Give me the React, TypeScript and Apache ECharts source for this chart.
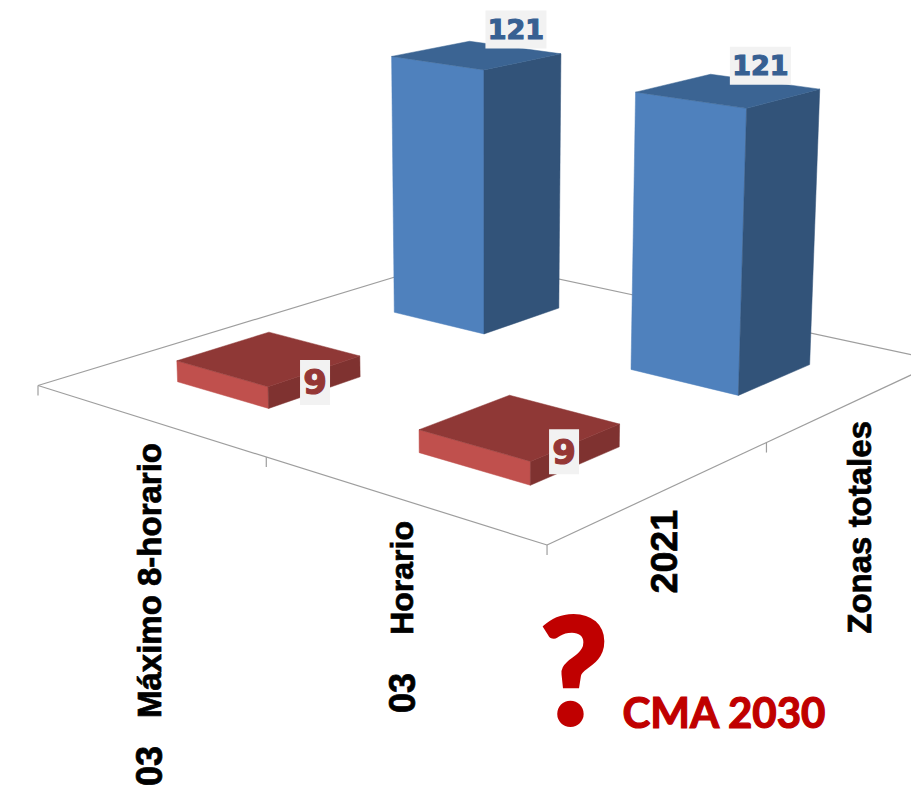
import React, { useEffect, useRef } from "react";
import * as echarts from "echarts";

// ---- data ----
const pollutantPrefix = "03";
const pollutants = ["Máximo 8-horario", "Horario"];
const periods = ["2021", "Zonas totales"];
const values2021 = [9, 9];
const valuesTotal = [121, 121];

// ---- appearance ----
const W = 911;
const H = 790;
const BAR_HALF = 0.1; // half footprint of a bar on the unit floor
const BAR_SHIFT = 1.6;
const HEIGHT_K = 0.375 / 121; // perspective pixels per value per floor-depth pixel
const DEPTH_ORIGIN = -370;
const LEAN_X = 485;
const LEAN_D = 8800;
const AXIS_COLOR = "#9e9e9e";
const LABEL_FONT = '"Liberation Sans", Arial, sans-serif';
const VALUE_FONT = '"DejaVu Sans", Verdana, sans-serif';
const NOTE_FONT = 'Lato, "Open Sans", sans-serif';
const NOTE_COLOR = "#c00000";

const SERIES_STYLE = [
  {
    front: "#c0504d", top: "#8f3836", side: "#7f3230", text: "#953735",
    fontSize: 34, boxW: 30, boxH: 45, offsets: [[46.5, 24], [44.5, 25]],
  },
  {
    front: "#4f81bd", top: "#3b6493", side: "#325379", text: "#376092",
    fontSize: 27, boxW: 61, boxH: 38, offsets: [[39.5, -25.5], [32.5, -25]],
  },
];

// Floor homography: unit square (u along pollutants, v along periods) to pixels
const G = -0.1869;
const Hh = 0.2088;
const MAT = { a: 406.8, b: 516.84, c: 38, d: 57.64, e: -74.23, f: 385.5 };

function floor(u: number, v: number): [number, number] {
  const w = G * u + Hh * v + 1;
  return [(MAT.a * u + MAT.b * v + MAT.c) / w, (MAT.d * u + MAT.e * v + MAT.f) / w];
}

function project(u: number, v: number, value: number): [number, number] {
  const [x, y] = floor(u, v);
  const s = value * HEIGHT_K * (y - DEPTH_ORIGIN);
  return [x + BAR_SHIFT + ((x - LEAN_X) / LEAN_D) * s, y - s];
}

function poly(points: [number, number][], fill: string) {
  return { type: "polygon", shape: { points }, style: { fill, stroke: fill, lineWidth: 0.5 } };
}

function renderBar(params: any, api: any) {
  const sys = params.coordSys;
  const p = api.coord([api.value(0), api.value(1)]);
  const u = (p[0] - sys.x) / sys.width;
  const v = 1 - (p[1] - sys.y) / sys.height;
  const val = api.value(2) as number;
  const st = SERIES_STYLE[api.value(1) as number];
  const off = st.offsets[api.value(0) as number];
  const u0 = u - BAR_HALF;
  const u1 = u + BAR_HALF;
  const v0 = v - BAR_HALF;
  const v1 = v + BAR_HALF;
  const bl = project(u0, v0, 0);
  const bf = project(u1, v0, 0);
  const br = project(u1, v1, 0);
  const tl = project(u0, v0, val);
  const tf = project(u1, v0, val);
  const tr = project(u1, v1, val);
  const tb = project(u0, v1, val);
  const c = project(u, v, val);
  const lx = c[0] + off[0];
  const ly = c[1] + off[1];
  return {
    type: "group",
    children: [
      poly([bl, bf, tf, tl], st.front),
      poly([bf, br, tr, tf], st.side),
      poly([tl, tf, tr, tb], st.top),
      {
        type: "rect",
        shape: { x: lx - st.boxW / 2, y: ly - st.boxH / 2, width: st.boxW, height: st.boxH },
        style: { fill: "#f2f2f2" },
      },
      {
        type: "text",
        x: lx,
        y: ly,
        style: {
          text: String(val),
          fill: st.text,
          stroke: st.text,
          lineWidth: 1.2,
          font: `bold ${st.fontSize}px ${VALUE_FONT}`,
          textAlign: "center",
          textVerticalAlign: "middle",
        },
      },
    ],
  };
}

function renderFloor(params: any, api: any) {
  if (params.dataIndex !== 0) return { type: "group", children: [] };
  const line = (a: [number, number], b: [number, number]) => ({
    type: "line",
    shape: { x1: a[0], y1: a[1], x2: b[0], y2: b[1] },
    style: { stroke: AXIS_COLOR, lineWidth: 1.2 },
  });
  const tick = (a: [number, number]) => line(a, [a[0], a[1] + 10]);
  const A = floor(0, 0);
  const B = floor(1, 0);
  const C = floor(1, 1);
  const D = floor(0, 1);
  return {
    type: "group",
    children: [
      line(A, B),
      line(B, C),
      line(C, D),
      line(D, A),
      tick(A),
      tick(floor(0.5, 0)),
      tick(B),
      tick(floor(1, 0.5)),
    ],
  };
}

function axisLabel(text: string, x: number, yTop: number, size: number) {
  return {
    type: "text",
    x,
    y: yTop,
    rotation: Math.PI / 2,
    style: {
      text,
      fill: "#000",
      stroke: "#000",
      lineWidth: 0.7,
      font: `bold ${size}px ${LABEL_FONT}`,
      textAlign: "right",
      textVerticalAlign: "middle",
    },
  };
}

export default function App() {
  const ref = useRef<HTMLDivElement>(null);
  useEffect(() => {
    const chart = echarts.init(ref.current!, null, { renderer: "svg" });
    const barData = [
      ...values2021.map((v, i) => [i, 0, v]),
      ...valuesTotal.map((v, i) => [i, 1, v]),
    ];
    chart.setOption({
      animation: false,
      backgroundColor: "#fff",
      grid: { left: 0, top: 0, width: 100, height: 100 },
      xAxis: { type: "category", data: pollutants, show: false },
      yAxis: { type: "category", data: periods, show: false },
      series: [
        {
          type: "custom",
          renderItem: renderFloor,
          data: [[0, 0]],
          clip: false,
          silent: true,
          z: 1,
        },
        {
          type: "custom",
          renderItem: renderBar,
          data: barData,
          encode: { x: 0, y: 1 },
          clip: false,
          silent: true,
          z: 2,
        },
      ],
      graphic: [
        axisLabel(pollutants[0], 149, 443, 33),
        axisLabel(pollutantPrefix, 149, 746, 36),
        axisLabel(pollutants[1], 402, 521, 32),
        axisLabel(pollutantPrefix, 402, 673, 36),
        axisLabel(periods[0], 664, 510, 37.5),
        axisLabel(periods[1], 859, 421, 33),
        {
          type: "text",
          x: 574,
          y: 667,
          style: {
            text: "?",
            fill: NOTE_COLOR,
            stroke: NOTE_COLOR,
            lineWidth: 4,
            lineJoin: "round",
            font: `bold 148px ${NOTE_FONT}`,
            textAlign: "center",
            textVerticalAlign: "middle",
          },
        },
        {
          type: "text",
          x: 724,
          y: 712,
          style: {
            text: "CMA 2030",
            fill: NOTE_COLOR,
            stroke: NOTE_COLOR,
            lineWidth: 1.2,
            font: `bold 42px ${NOTE_FONT}`,
            textAlign: "center",
            textVerticalAlign: "middle",
          },
        },
      ],
    });
    return () => chart.dispose();
  }, []);
  return (
    <div
      ref={ref}
      style={{ position: "fixed", left: 0, top: 0, width: W, height: H, overflow: "hidden" }}
    />
  );
}
